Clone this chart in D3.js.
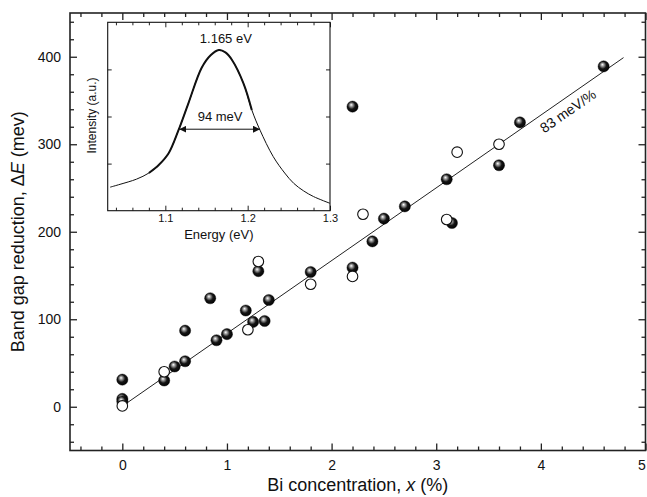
<!DOCTYPE html>
<html>
<head>
<meta charset="utf-8">
<script src="https://cdn.jsdelivr.net/npm/d3@7"></script>
<style>
  body { margin: 0; background: #fff; }
  text { font-family: "Liberation Sans", Arial, sans-serif; fill: #111; }
</style>
</head>
<body>
<div id="chart"></div>
<script>
// Filled spheres (x in %, dE in meV)
const filledX = [0, 0, 0, 0.4, 0.5, 0.6, 0.6, 0.84, 0.9, 1.0, 1.18, 1.25, 1.3, 1.36, 1.4, 1.8, 2.2, 2.2, 2.39, 2.5, 2.7, 3.1, 3.15, 3.6, 3.8, 4.6];
const filledY = [31, 9, 6, 30, 46, 52, 87, 124, 76, 83, 110, 97, 155, 98, 122, 154, 159, 343, 189, 215, 229, 260, 210, 276, 325, 389];

// Open circles
const openX = [0, 0.4, 1.2, 1.3, 1.8, 2.2, 2.3, 3.1, 3.2, 3.6];
const openY = [1, 40, 88, 166, 140, 149, 220, 214, 291, 300];

// Linear fit end points (83 meV/%)
const fitX = [0.04, 4.79];
const fitY = [4, 399];

// Inset PL spectrum
const plEnergy = [1.033, 1.045, 1.065, 1.08, 1.092, 1.104, 1.116, 1.128, 1.144, 1.155, 1.165, 1.173, 1.181, 1.195, 1.205, 1.215, 1.231, 1.245, 1.256, 1.268, 1.28, 1.3];
const plIntensity = [0.5, 0.56, 0.67, 0.8, 0.97, 1.22, 1.71, 2.28, 3.03, 3.3, 3.41, 3.36, 3.2, 2.7, 2.14, 1.71, 1.15, 0.8, 0.58, 0.42, 0.3, 0.157];
const fwhmEnergy = [1.117, 1.215];
const fwhmLevel = 1.73;

const xMajor = [0, 1, 2, 3, 4, 5];
const yMajor = [0, 100, 200, 300, 400];
const insetXMajor = [1.1, 1.2, 1.3];

const W = 647, H = 497;
const svg = d3.select("#chart").append("svg").attr("width", W).attr("height", H);

// Gradient for the shaded spheres
const defs = svg.append("defs");
const grad = defs.append("radialGradient").attr("id", "sphere")
  .attr("cx", "45%").attr("cy", "45%").attr("r", "60%")
  .attr("fx", "38%").attr("fy", "33%");
grad.append("stop").attr("offset", "0%").attr("stop-color", "#ffffff");
grad.append("stop").attr("offset", "22%").attr("stop-color", "#a0a0a0");
grad.append("stop").attr("offset", "55%").attr("stop-color", "#151515");
grad.append("stop").attr("offset", "100%").attr("stop-color", "#000");

["arrowL", "arrowR"].forEach((id, i) => {
  defs.append("marker").attr("id", id)
    .attr("viewBox", "0 0 10 10").attr("refX", i ? 10 : 0).attr("refY", 5)
    .attr("markerWidth", 7).attr("markerHeight", 7).attr("markerUnits", "userSpaceOnUse")
    .attr("orient", "auto")
    .append("path")
    .attr("d", i ? "M0,0 L10,5 L0,10 z" : "M10,0 L0,5 L10,10 z")
    .attr("fill", "#111");
});

// Main scales
const x = d3.scaleLinear().domain([-0.5, 5]).range([70, 645.5]);
const y = d3.scaleLinear().domain([-50, 450]).range([450.5, 13]);

const xMinor = d3.range(-0.4, 5.0001, 0.2).map(v => +v.toFixed(1)).filter(v => !xMajor.includes(v));
const yMinor = d3.range(-40, 450, 20).filter(v => !yMajor.includes(v));

function addAxis(axis, transform, fontSize) {
  const g = svg.append("g").attr("transform", transform).call(axis);
  g.select(".domain").remove();
  g.selectAll("line").attr("stroke", "#222").attr("stroke-width", 1.3);
  g.selectAll("text").style("font-size", fontSize + "px").attr("fill", "#111")
    .style("font-family", "'Liberation Sans', Arial, sans-serif");
  return g;
}

// bottom and top
const bottom = addAxis(d3.axisBottom(x).tickValues(xMajor).tickSize(-7).tickPadding(10).tickFormat(d3.format("d")), `translate(0,${y.range()[0]})`, 14);
// the last label sits on the page edge; pull it in a little so it stays readable
bottom.selectAll("text").filter(d => d === 5).attr("dx", -4);
addAxis(d3.axisBottom(x).tickValues(xMinor).tickSize(-4).tickFormat(""), `translate(0,${y.range()[0]})`, 14);
addAxis(d3.axisTop(x).tickValues(xMajor).tickSize(-7).tickFormat(""), `translate(0,${y.range()[1]})`, 14);
addAxis(d3.axisTop(x).tickValues(xMinor).tickSize(-4).tickFormat(""), `translate(0,${y.range()[1]})`, 14);
// left and right
addAxis(d3.axisLeft(y).tickValues(yMajor).tickSize(-7).tickPadding(9).tickFormat(d3.format("d")), `translate(${x.range()[0]},0)`, 14);
addAxis(d3.axisLeft(y).tickValues(yMinor).tickSize(-4).tickFormat(""), `translate(${x.range()[0]},0)`, 14);
addAxis(d3.axisRight(y).tickValues(yMajor).tickSize(-7).tickFormat(""), `translate(${x.range()[1]},0)`, 14);
addAxis(d3.axisRight(y).tickValues(yMinor).tickSize(-4).tickFormat(""), `translate(${x.range()[1]},0)`, 14);

// frame
svg.append("rect")
  .attr("x", x.range()[0]).attr("y", y.range()[1])
  .attr("width", x.range()[1] - x.range()[0]).attr("height", y.range()[0] - y.range()[1])
  .attr("fill", "none").attr("stroke", "#222").attr("stroke-width", 1.6);

// Axis titles
const xt = svg.append("text").attr("x", (x.range()[0] + x.range()[1]) / 2).attr("y", 491)
  .attr("text-anchor", "middle").style("font-size", "18px");
xt.append("tspan").text("Bi concentration, ");
xt.append("tspan").attr("font-style", "italic").text("x");
xt.append("tspan").text(" (%)");

const yt = svg.append("text").attr("transform", `translate(24,${(y.range()[0] + y.range()[1]) / 2}) rotate(-90)`)
  .attr("text-anchor", "middle").style("font-size", "18px");
yt.append("tspan").text("Band gap reduction, \u0394");
yt.append("tspan").attr("font-style", "italic").text("E");
yt.append("tspan").text(" (mev)");

// Fit line
svg.append("line")
  .attr("x1", x(fitX[0])).attr("y1", y(fitY[0]))
  .attr("x2", x(fitX[1])).attr("y2", y(fitY[1]))
  .attr("stroke", "#222").attr("stroke-width", 1);

// slope label, just below the fit line
const slopeAngle = Math.atan2(y(fitY[1]) - y(fitY[0]), x(fitX[1]) - x(fitX[0])) * 180 / Math.PI;
svg.append("text")
  .attr("transform", `translate(${x(4.25) + 1},${y(338)}) rotate(${slopeAngle})`)
  .attr("text-anchor", "middle").attr("dy", "0.35em").style("font-size", "14px")
  .text("83 meV/%");

// Data points: filled first, open on top
svg.append("g").selectAll("circle")
  .data(filledX.map((v, i) => [v, filledY[i]]))
  .join("circle")
  .attr("cx", d => x(d[0])).attr("cy", d => y(d[1])).attr("r", 5.6)
  .attr("fill", "url(#sphere)").attr("stroke", "#000").attr("stroke-width", 0.4);

svg.append("g").selectAll("circle")
  .data(openX.map((v, i) => [v, openY[i]]))
  .join("circle")
  .attr("cx", d => x(d[0])).attr("cy", d => y(d[1])).attr("r", 5.3)
  .attr("fill", "#fff").attr("stroke", "#111").attr("stroke-width", 1.1);

// ---- Inset ----
const ix = d3.scaleLinear().domain([1.03, 1.3]).range([107.7, 330]);
const iy = d3.scaleLinear().domain([0, 4]).range([210.7, 22.3]);
const inset = svg.append("g");

inset.append("rect")
  .attr("x", ix.range()[0]).attr("y", iy.range()[1])
  .attr("width", ix.range()[1] - ix.range()[0]).attr("height", iy.range()[0] - iy.range()[1])
  .attr("fill", "#fff");

const ixMinor = d3.range(1.04, 1.29, 0.02).map(v => +v.toFixed(2)).filter(v => !insetXMajor.includes(v));
const iyMajor = [1, 2, 3];

function addInsetAxis(axis, transform) {
  const g = inset.append("g").attr("transform", transform).call(axis);
  g.select(".domain").remove();
  g.selectAll("line").attr("stroke", "#222").attr("stroke-width", 1);
  g.selectAll("text").style("font-size", "11px").attr("fill", "#111")
    .style("font-family", "'Liberation Sans', Arial, sans-serif");
}
addInsetAxis(d3.axisBottom(ix).tickValues(insetXMajor).tickSize(-5).tickPadding(4).tickFormat(d3.format(".1f")), `translate(0,${iy.range()[0]})`);
addInsetAxis(d3.axisBottom(ix).tickValues(ixMinor).tickSize(-3).tickFormat(""), `translate(0,${iy.range()[0]})`);
addInsetAxis(d3.axisTop(ix).tickValues(insetXMajor).tickSize(-5).tickFormat(""), `translate(0,${iy.range()[1]})`);
addInsetAxis(d3.axisTop(ix).tickValues(ixMinor).tickSize(-3).tickFormat(""), `translate(0,${iy.range()[1]})`);
addInsetAxis(d3.axisLeft(iy).tickValues(iyMajor).tickSize(-4).tickFormat(""), `translate(${ix.range()[0]},0)`);
addInsetAxis(d3.axisRight(iy).tickValues(iyMajor).tickSize(-4).tickFormat(""), `translate(${ix.range()[1]},0)`);

inset.append("rect")
  .attr("x", ix.range()[0]).attr("y", iy.range()[1])
  .attr("width", ix.range()[1] - ix.range()[0]).attr("height", iy.range()[0] - iy.range()[1])
  .attr("fill", "none").attr("stroke", "#111").attr("stroke-width", 1.1);

const pl = plEnergy.map((e, i) => [e, plIntensity[i]]);
const plLine = d3.line().x(d => ix(d[0])).y(d => iy(d[1])).curve(d3.curveCatmullRom.alpha(0.5));
inset.append("path").datum(pl).attr("d", plLine)
  .attr("fill", "none").attr("stroke", "#111").attr("stroke-width", 1);
// denser measured part of the spectrum looks heavier
inset.append("path").datum(pl.filter(d => d[0] >= 1.08 && d[0] <= 1.205)).attr("d", plLine)
  .attr("fill", "none").attr("stroke", "#111").attr("stroke-width", 2);

// FWHM arrow
inset.append("line")
  .attr("x1", ix(fwhmEnergy[0])).attr("y1", iy(fwhmLevel))
  .attr("x2", ix(fwhmEnergy[1])).attr("y2", iy(fwhmLevel))
  .attr("stroke", "#111").attr("stroke-width", 1)
  .attr("marker-start", "url(#arrowL)").attr("marker-end", "url(#arrowR)");

inset.append("text").attr("x", ix(1.1665)).attr("y", iy(fwhmLevel) - 8)
  .attr("text-anchor", "middle").style("font-size", "13px").text("94 meV");
inset.append("text").attr("x", ix(1.1735)).attr("y", 43)
  .attr("text-anchor", "middle").style("font-size", "13px").text("1.165 eV");

inset.append("text").attr("x", (ix.range()[0] + ix.range()[1]) / 2).attr("y", 239)
  .attr("text-anchor", "middle").style("font-size", "13px").text("Energy (eV)");
inset.append("text").attr("transform", `translate(96,${(iy.range()[0] + iy.range()[1]) / 2 - 1}) rotate(-90)`)
  .attr("text-anchor", "middle").style("font-size", "12px").text("Intensity (a.u.)");
</script>
</body>
</html>
